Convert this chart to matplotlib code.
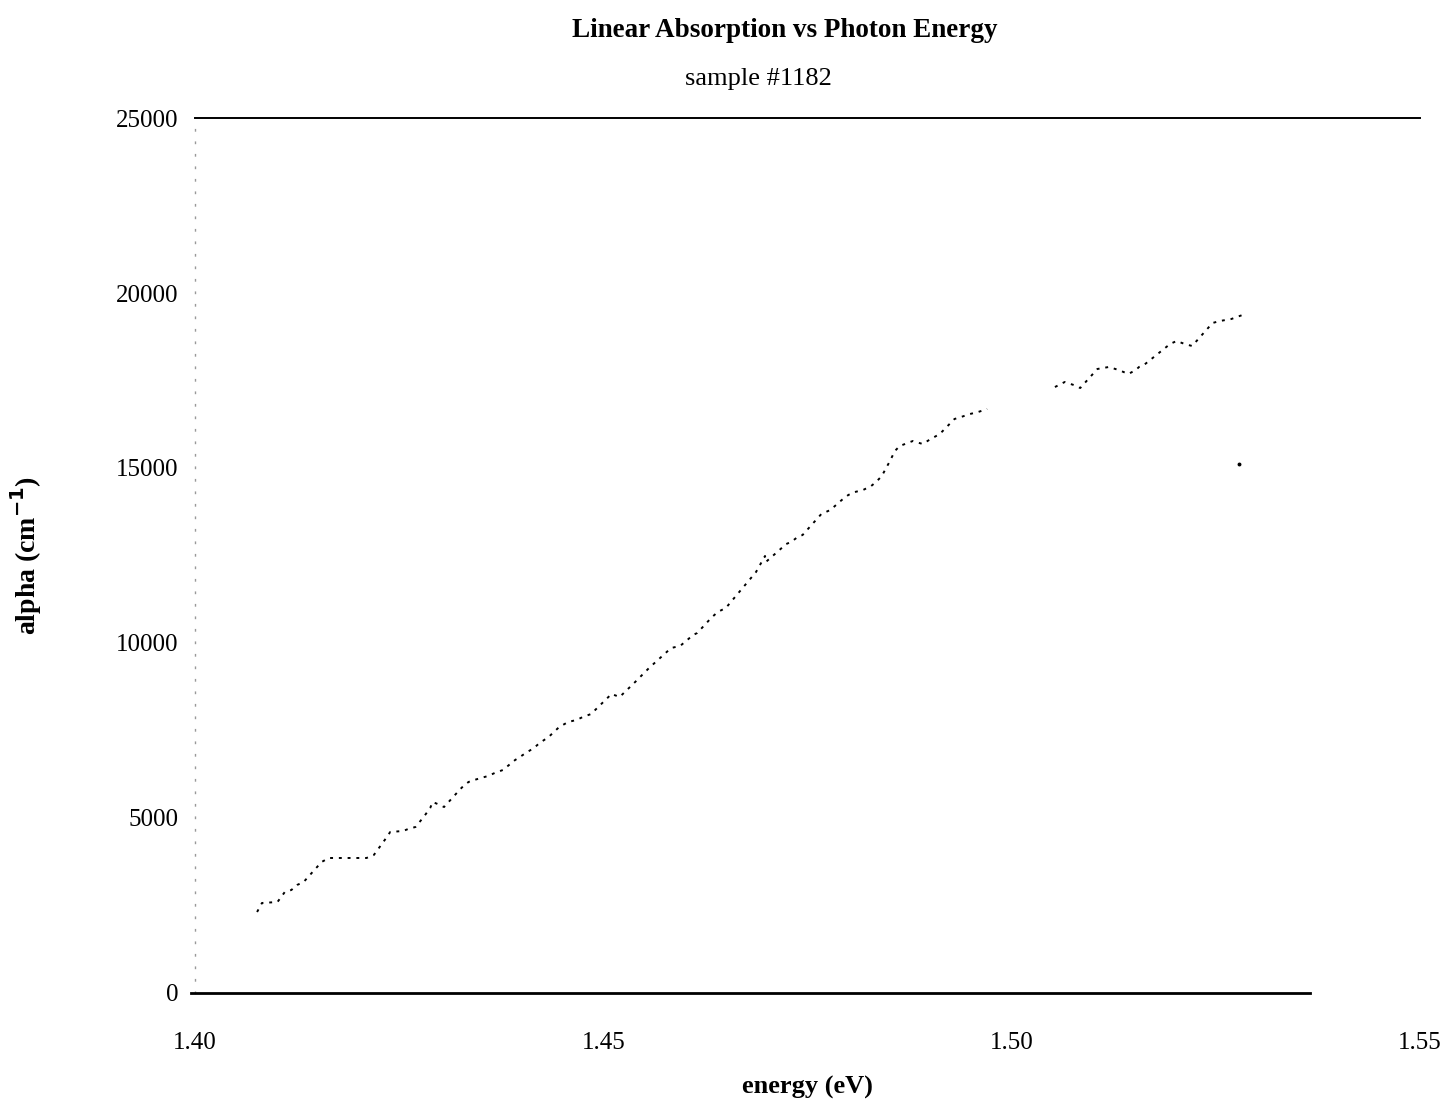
import numpy as np
import matplotlib.pyplot as plt

# Dữ liệu (energy eV, alpha cm^-1)
energy_a = [1.4076, 1.4082, 1.4101, 1.4110, 1.4118, 1.4125, 1.4133, 1.4155, 1.4164, 1.4210,
            1.4219, 1.4235, 1.4239, 1.4255, 1.4261, 1.4270, 1.4280, 1.4288, 1.4291, 1.4297,
            1.4305, 1.4325, 1.4330, 1.4335, 1.4342, 1.4350, 1.4359, 1.4367, 1.4377, 1.4392,
            1.4396, 1.4405, 1.4415, 1.4422, 1.4433, 1.4446, 1.4457, 1.4467, 1.4475, 1.4485,
            1.4510, 1.4520, 1.4539, 1.4556, 1.4583, 1.4594, 1.4610, 1.4615, 1.4632, 1.4640,
            1.4650, 1.4687, 1.4698, 1.4699, 1.4724, 1.4730, 1.4738, 1.4744, 1.4767, 1.4778,
            1.4792, 1.4800, 1.4808, 1.4818, 1.4828, 1.4834, 1.4841, 1.4851, 1.4857, 1.4863,
            1.4879, 1.4891, 1.4901, 1.4912, 1.4930, 1.4938, 1.4949, 1.4959, 1.4970]
alpha_a = [2314, 2571, 2600, 2886, 2943, 3086, 3171, 3743, 3857, 3857,
           3943, 4457, 4600, 4629, 4686, 4743, 5029, 5286, 5457, 5400,
           5314, 5829, 5943, 6029, 6086, 6143, 6200, 6286, 6371, 6657,
           6714, 6857, 7000, 7143, 7314, 7600, 7743, 7800, 7886, 7971,
           8543, 8457, 8886, 9286, 9857, 9914, 10229, 10286, 10714, 10886,
           11000, 12029, 12486, 12314, 12829, 12886, 13029, 13086, 13686, 13800,
           14086, 14229, 14314, 14371, 14486, 14600, 14771, 15200, 15486, 15629,
           15771, 15686, 15829, 15971, 16400, 16457, 16543, 16600, 16686]

energy_b = [1.5053, 1.5058, 1.5065, 1.5076, 1.5084, 1.5105, 1.5119, 1.5131, 1.5137, 1.5143,
            1.5152, 1.5156, 1.5162, 1.5194, 1.5202, 1.5212, 1.5221, 1.5246, 1.5255, 1.5269,
            1.5286]
alpha_b = [17314, 17371, 17457, 17371, 17286, 17829, 17886, 17800, 17743, 17686,
           17800, 17886, 17943, 18543, 18629, 18543, 18486, 19143, 19200, 19257,
           19400]

# điểm lẻ
stray_energy = [1.5278]
stray_alpha = [15114]

x_ticks = [1.40, 1.45, 1.50, 1.55]
x_tick_labels = ['1.40', '1.45', '1.50', '1.55']
y_ticks = [0, 5000, 10000, 15000, 20000, 25000]

plt.rcParams['font.family'] = ['Liberation Serif', 'DejaVu Serif']

fig = plt.figure(figsize=(14.51, 11.07), dpi=100)
ax = fig.add_axes([0.1344, 0.103, 0.8442, 0.7904])

dot_style = dict(color='black', linewidth=1.4, linestyle=(0, (1.5, 3)))
ax.plot(energy_a, alpha_a, **dot_style)
ax.plot(energy_b, alpha_b, **dot_style)
ax.plot(stray_energy, stray_alpha, 'o', color='black', markersize=1.8)

ax.set_xlim(1.40, 1.55)
ax.set_ylim(0, 25000)

ax.spines['top'].set_linewidth(1.4)
ax.spines['bottom'].set_linewidth(2.0)
ax.spines['bottom'].set_bounds(1.3995, 1.5365)
ax.spines['left'].set_color('#999999')
ax.spines['left'].set_linewidth(1.0)
ax.spines['left'].set_linestyle((0, (1, 8)))
ax.spines['right'].set_visible(False)

ax.set_xticks(x_ticks)
ax.set_xticklabels(x_tick_labels)
ax.set_yticks(y_ticks)
ax.tick_params(axis='both', length=0, labelsize=18)
ax.tick_params(axis='x', pad=28)
ax.tick_params(axis='y', pad=12)

ax.set_xlabel('energy (eV)', fontsize=19, fontweight='bold', labelpad=16)
ax.set_ylabel(r'alpha (cm$^{\mathbf{-1}}$)', fontsize=20, fontweight='bold', labelpad=52)

fig.text(0.541, 0.972, 'Linear Absorption vs Photon Energy', ha='center', va='center',
         fontsize=19.5, fontweight='bold')
fig.text(0.523, 0.929, 'sample #1182', ha='center', va='center', fontsize=19)

fig.savefig('out.png', dpi=100)
